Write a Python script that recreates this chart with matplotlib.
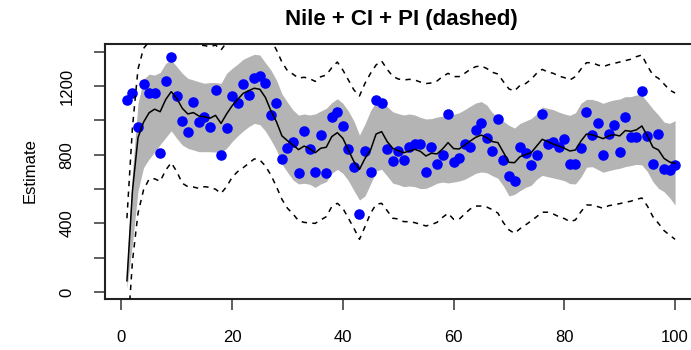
import numpy as np
import matplotlib
matplotlib.use("Agg")
import matplotlib.pyplot as plt

plt.rcParams['font.family'] = ['Liberation Sans', 'DejaVu Sans']

# Nile annual flow (observations)
nile = [1120, 1160, 963, 1210, 1160, 1160, 813, 1230, 1370, 1140,
        995, 935, 1110, 994, 1020, 960, 1180, 799, 958, 1140,
        1100, 1210, 1150, 1250, 1260, 1220, 1030, 1100, 774, 840,
        874, 694, 940, 833, 701, 916, 692, 1020, 1050, 969,
        831, 726, 456, 824, 702, 1120, 1100, 832, 764, 821,
        768, 845, 864, 862, 698, 845, 744, 796, 1040, 759,
        781, 865, 845, 944, 984, 897, 822, 1010, 771, 676,
        649, 846, 812, 742, 801, 1040, 860, 874, 848, 890,
        744, 749, 838, 1050, 918, 986, 797, 923, 975, 815,
        1020, 906, 901, 1170, 912, 746, 919, 718, 714, 740]

# estimated level
level = [65, 590, 900, 990, 1045, 1066, 1051, 1122, 1168, 1129,
         1071, 1038, 1046, 1026, 1022, 1013, 1030, 983, 1038, 1086,
         1123, 1158, 1174, 1188, 1182, 1135, 1057, 993, 910, 882,
         857, 830, 851, 836, 812, 838, 844, 906, 929, 896,
         828, 760, 715, 779, 828, 921, 935, 877, 838, 824,
         812, 822, 832, 820, 793, 809, 805, 834, 871, 836,
         834, 857, 880, 902, 915, 900, 877, 871, 814, 756,
         754, 789, 801, 812, 851, 890, 877, 863, 851, 838,
         822, 828, 880, 921, 917, 906, 894, 910, 917, 910,
         941, 937, 945, 968, 910, 844, 828, 779, 758, 750]

ci_hi = [150, 700, 1100, 1240, 1270, 1265, 1280, 1333, 1353, 1314,
         1275, 1246, 1236, 1226, 1217, 1221, 1221, 1217, 1275, 1304,
         1329, 1357, 1372, 1386, 1382, 1337, 1294, 1236, 1155, 1106,
         1061, 1031, 1038, 1032, 1038, 1055, 1071, 1104, 1127, 1100,
         1055, 997, 915, 980, 1057, 1108, 1100, 1081, 1051, 1040,
         1032, 1038, 1032, 1018, 1009, 1011, 1020, 1026, 1034, 1036,
         1045, 1063, 1083, 1102, 1110, 1090, 1045, 1022, 995, 972,
         956, 983, 997, 1011, 1038, 1079, 1071, 1063, 1049, 1038,
         1030, 1045, 1100, 1123, 1123, 1114, 1100, 1112, 1120, 1125,
         1139, 1139, 1149, 1147, 1108, 1067, 1032, 991, 983, 999]

ci_lo = [20, 284, 590, 725, 775, 815, 860, 900, 940, 896,
         857, 838, 828, 818, 818, 818, 816, 812, 838, 877,
         910, 939, 964, 983, 976, 939, 886, 828, 746, 698,
         653, 630, 634, 628, 610, 630, 643, 692, 715, 692,
         649, 591, 536, 560, 630, 707, 715, 676, 635, 626,
         614, 618, 614, 603, 604, 618, 634, 641, 636, 641,
         647, 657, 674, 692, 700, 695, 678, 663, 618, 560,
         569, 591, 610, 622, 657, 680, 672, 665, 657, 649,
         632, 630, 670, 727, 731, 715, 698, 707, 715, 721,
         731, 737, 744, 741, 702, 643, 604, 585, 550, 507]

pi_hi = [430, 960, 1300, 1420, 1460, 1480, 1470, 1540, 1580, 1545,
         1490, 1455, 1460, 1440, 1437, 1430, 1440, 1411, 1455, 1500,
         1540, 1575, 1590, 1600, 1595, 1550, 1470, 1412, 1340, 1290,
         1270, 1247, 1252, 1244, 1228, 1255, 1265, 1308, 1341, 1294,
         1236, 1178, 1143, 1217, 1275, 1324, 1347, 1298, 1258, 1242,
         1236, 1240, 1236, 1224, 1215, 1219, 1230, 1256, 1275, 1256,
         1256, 1275, 1298, 1314, 1318, 1303, 1281, 1271, 1226, 1184,
         1172, 1205, 1215, 1240, 1275, 1298, 1283, 1275, 1259, 1250,
         1236, 1256, 1300, 1337, 1337, 1324, 1314, 1325, 1333, 1341,
         1349, 1357, 1372, 1382, 1318, 1265, 1246, 1213, 1178, 1160]

pi_lo = [-300, 180, 459, 595, 658, 660, 645, 710, 754, 702,
         634, 614, 612, 604, 614, 610, 599, 575, 614, 669,
         702, 725, 750, 776, 770, 735, 682, 614, 540, 488,
         455, 415, 406, 402, 400, 420, 439, 498, 517, 488,
         430, 371, 307, 381, 459, 511, 517, 474, 430, 426,
         410, 410, 404, 395, 385, 393, 406, 435, 459, 424,
         424, 455, 484, 501, 501, 495, 480, 460, 404, 362,
         342, 369, 391, 414, 439, 465, 465, 455, 439, 428,
         410, 420, 468, 507, 507, 498, 488, 503, 509, 515,
         523, 529, 540, 548, 501, 439, 400, 358, 332, 307]

t = np.arange(1, len(nile) + 1)

fig = plt.figure(figsize=(6.91, 3.5), dpi=100)
# plot region runs a little past the right edge, like the original crop
ax = fig.add_axes([105 / 691, 51 / 350, 592 / 691, 255 / 350])

ax.fill_between(t, ci_lo, ci_hi, color='#b4b4b4', lw=0, zorder=1)
ax.plot(t, nile, 'o', color='blue', ms=7.6, mec='none', zorder=2)
ax.plot(t, level, color='black', lw=1.1, zorder=3)
ax.plot(t, pi_hi, color='black', lw=1.1, ls=(0, (3.5, 3.5)), zorder=3)
ax.plot(t, pi_lo, color='black', lw=1.1, ls=(0, (3.5, 3.5)), zorder=3)

ax.set_xlim(-2.96, 103.96)
ax.set_ylim(-41, 1446)

ax.set_xticks(range(0, 101, 20))
yt = list(range(0, 1401, 200))
ax.set_yticks(yt)
ax.set_yticklabels([str(v) if v % 400 == 0 else '' for v in yt],
                   rotation=90, va='center')
ax.tick_params(axis='both', length=8, width=1.1, labelsize=12, color='#333333')
ax.tick_params(axis='x', pad=14)
ax.tick_params(axis='y', pad=14)
for s in ax.spines.values():
    s.set_linewidth(1.5)
    s.set_color('#222222')

fig.text(401 / 691, 1 - 20 / 350, 'Nile + CI + PI (dashed)', ha='center',
         va='center', fontsize=16, fontweight='bold')
fig.text(30 / 691, 1 - 171 / 350, 'Estimate', ha='center', va='center',
         rotation=90, fontsize=12)

fig.savefig('out.png', dpi=100)
